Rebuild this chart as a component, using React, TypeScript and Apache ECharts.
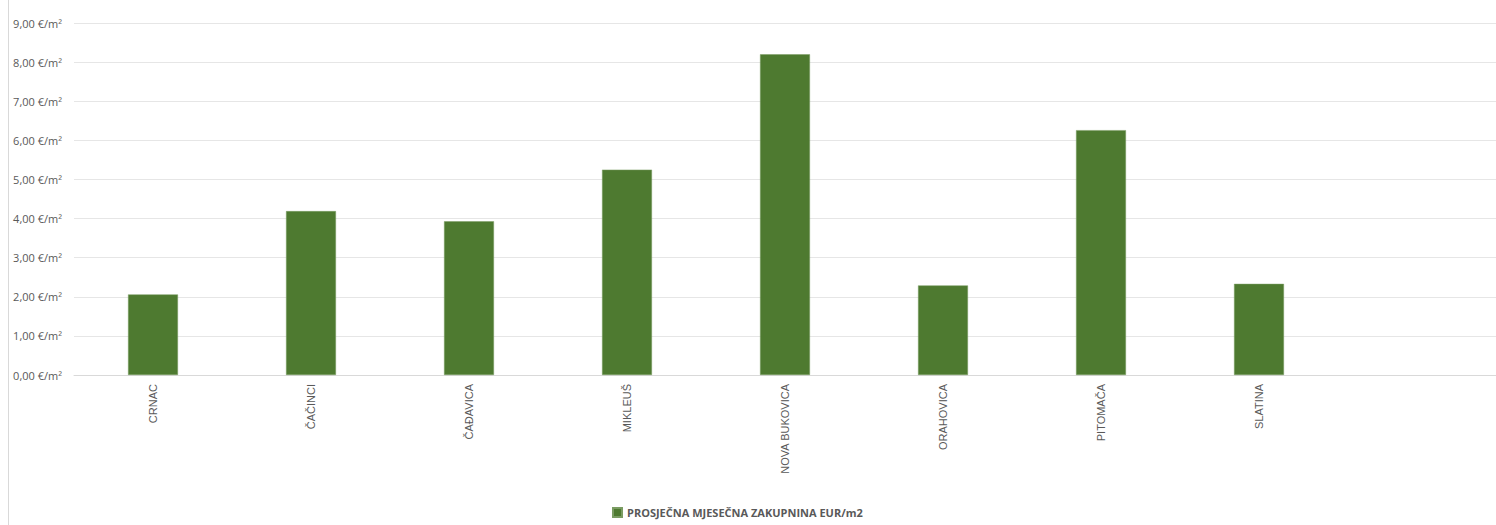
import React, { useEffect, useRef } from "react";
import * as echarts from "echarts";

const categories = [
  "CRNAC",
  "ČAČINCI",
  "ČAĐAVICA",
  "MIKLEUŠ",
  "NOVA BUKOVICA",
  "ORAHOVICA",
  "PITOMAČA",
  "SLATINA",
  "",
];
const values: (number | string)[] = [2.06, 4.19, 3.93, 5.25, 8.2, 2.29, 6.26, 2.33, "-"];
const seriesName = "PROSJEČNA MJESEČNA ZAKUPNINA EUR/m2";
const yMin = 0;
const yMax = 9;
const yInterval = 1;

export default function App() {
  const ref = useRef<HTMLDivElement>(null);
  useEffect(() => {
    if (!ref.current) return;
    const chart = echarts.init(ref.current, undefined, { renderer: "svg" });
    chart.setOption({
      animation: false,
      backgroundColor: "#ffffff",
      grid: { left: 74, top: 23, width: 1430, height: 352, containLabel: false },
      graphic: [
        {
          type: "line",
          shape: { x1: 8.5, y1: 0, x2: 8.5, y2: 525 },
          style: { stroke: "#d9d9d9", lineWidth: 1 },
        },
      ],
      legend: {
        data: [seriesName],
        left: 607,
        top: 502,
        icon: "rect",
        itemWidth: 9,
        itemHeight: 9,
        itemGap: 10,
        textStyle: {
          color: "#595959",
          fontFamily: "Open Sans",
          fontWeight: "bold",
          fontSize: 11,
        },
      },
      xAxis: {
        type: "category",
        data: categories,
        axisLine: { lineStyle: { color: "#d9d9d9", width: 1 } },
        axisTick: { show: false },
        axisLabel: {
          rotate: 90,
          interval: 0,
          margin: 9,
          color: "#595959",
          fontFamily: "Liberation Sans",
          fontSize: 11,
        },
      },
      yAxis: {
        type: "value",
        min: yMin,
        max: yMax,
        interval: yInterval,
        axisLine: { show: false },
        axisTick: { show: false },
        splitLine: { lineStyle: { color: "#e6e6e6", width: 1 } },
        axisLabel: {
          margin: 12,
          color: "#595959",
          fontFamily: "Open Sans",
          fontSize: 11,
          formatter: (v: number) => v.toFixed(2).replace(".", ",") + " €/m²",
        },
      },
      series: [
        {
          name: seriesName,
          type: "bar",
          data: values,
          barWidth: "31.6%",
          itemStyle: { color: "#4e7a30", borderColor: "#7a9c62", borderWidth: 0.5 },
        },
      ],
    });
    return () => chart.dispose();
  }, []);
  return (
    <div
      ref={ref}
      style={{ position: "absolute", left: 0, top: 0, width: 1496, height: 525 }}
    />
  );
}
